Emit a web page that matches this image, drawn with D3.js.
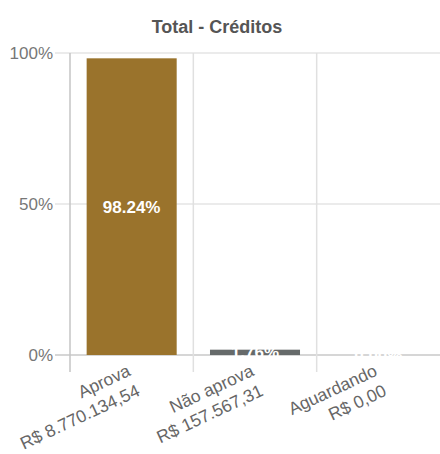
<!DOCTYPE html>
<html>
<head>
<meta charset="utf-8">
<script src="https://cdn.jsdelivr.net/npm/d3@7"></script>
<style>
  body { margin: 0; background: #fff; }
  text { font-family: "Liberation Sans", Arial, sans-serif; }
</style>
</head>
<body>
<script>
const WIDTH = 440;
const HEIGHT = 454;

// dados
const categorias = ["Aprova", "Não aprova", "Aguardando"];
const valores = ["R$ 8.770.134,54", "R$ 157.567,31", "R$ 0,00"];
const percentuais = [98.24, 1.76, 0.00];
const cores = ["#9a732c", "#666a6a", "#666a6a"];
const ticksY = [0, 50, 100];

const margin = {top: 53, right: 0, bottom: 99, left: 70};

const svg = d3.select("body")
  .append("svg")
  .attr("width", WIDTH)
  .attr("height", HEIGHT);

const x = d3.scaleBand()
  .domain(categorias)
  .range([margin.left, margin.left + 370])
  .paddingInner(0.27)
  .paddingOuter(0.135);

const y = d3.scaleLinear()
  .domain([0, 100])
  .range([HEIGHT - margin.bottom, margin.top]);

// titulo
svg.append("text")
  .attr("x", 217)
  .attr("y", 33)
  .attr("text-anchor", "middle")
  .attr("font-size", 18)
  .attr("font-weight", "bold")
  .attr("fill", "#555")
  .text("Total - Créditos");

// grade horizontal
svg.append("g")
  .selectAll("line")
  .data(ticksY)
  .join("line")
  .attr("x1", margin.left - 15)
  .attr("x2", WIDTH)
  .attr("y1", d => y(d))
  .attr("y2", d => y(d))
  .attr("stroke", d => d === 0 ? "#c8c8c8" : "#e4e4e4")
  .attr("stroke-width", 1.5);

// grade vertical (limites das categorias)
const passo = x.step();
const limites = categorias.map((c, i) => margin.left + i * passo);
svg.append("g")
  .selectAll("line")
  .data(limites.slice(1))
  .join("line")
  .attr("x1", d => d)
  .attr("x2", d => d)
  .attr("y1", y(100))
  .attr("y2", y(0) + 17)
  .attr("stroke", "#e0e0e0")
  .attr("stroke-width", 1.5);

svg.append("line")
  .attr("x1", margin.left)
  .attr("x2", margin.left)
  .attr("y1", y(100))
  .attr("y2", y(0) + 17)
  .attr("stroke", "#c4c4c4")
  .attr("stroke-width", 1.5);

// rotulos eixo y
svg.append("g")
  .selectAll("text")
  .data(ticksY)
  .join("text")
  .attr("x", margin.left - 17)
  .attr("y", d => y(d) + 6)
  .attr("text-anchor", "end")
  .attr("font-size", 17)
  .attr("fill", "#777")
  .text(d => d + "%");

// barras
svg.append("g")
  .selectAll("rect")
  .data(percentuais)
  .join("rect")
  .attr("x", (d, i) => x(categorias[i]))
  .attr("width", x.bandwidth())
  .attr("y", d => y(d))
  .attr("height", d => y(0) - y(d))
  .attr("fill", (d, i) => cores[i]);

// rotulos das barras
svg.append("g")
  .selectAll("text")
  .data(percentuais)
  .join("text")
  .attr("x", (d, i) => x(categorias[i]) + x.bandwidth() / 2)
  .attr("y", d => (y(d) + y(0)) / 2 + 6)
  .attr("text-anchor", "middle")
  .attr("font-size", 17)
  .attr("font-weight", "bold")
  .attr("fill", "#fff")
  .text(d => d.toFixed(2) + "%");

// rotulos eixo x
const rot = svg.append("g")
  .selectAll("text")
  .data(categorias)
  .join("text")
  .attr("transform", d => `translate(${x(d) + x.bandwidth() / 2},${y(0) + 20}) rotate(-25)`)
  .attr("text-anchor", "end")
  .attr("font-size", 17.5)
  .attr("fill", "#666");

rot.append("tspan")
  .attr("x", 0)
  .attr("dy", 0)
  .text(d => d);

rot.append("tspan")
  .attr("x", 0)
  .attr("dy", 22)
  .text((d, i) => valores[i]);
</script>
</body>
</html>
